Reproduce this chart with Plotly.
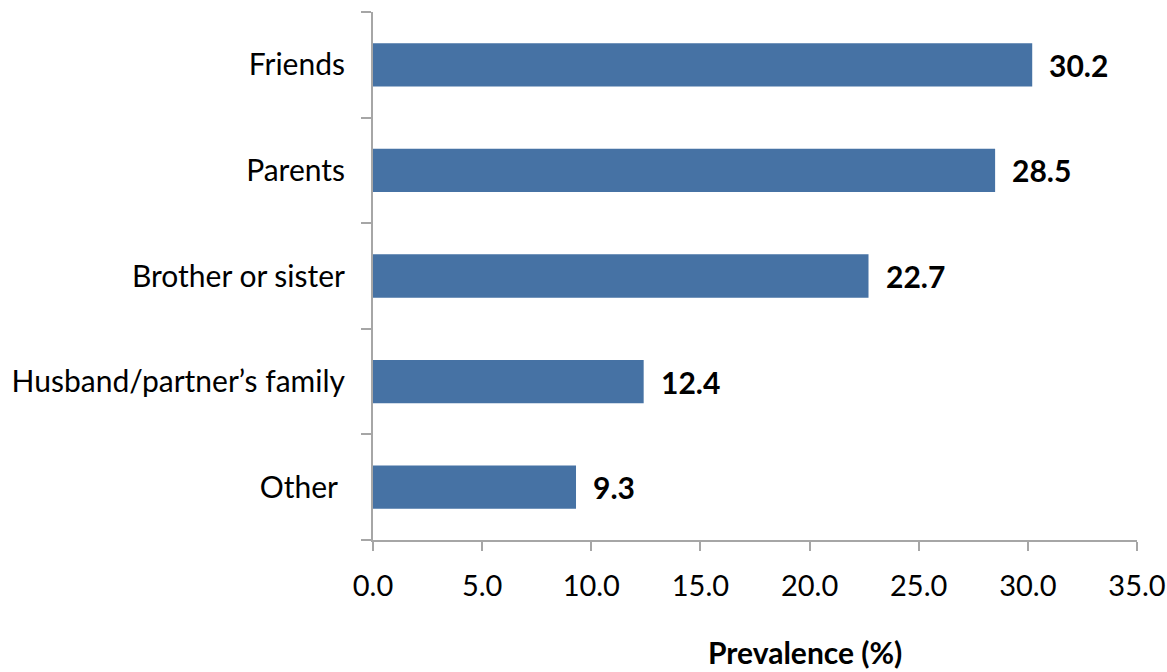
import plotly.graph_objects as go

categories = ["Friends", "Parents", "Brother or sister", "Husband/partner\u2019s family", "Other "]
values = [30.2, 28.5, 22.7, 12.4, 9.3]
value_labels = ["30.2", "28.5", "22.7", "12.4", "9.3"]
x_ticks = [0, 5, 10, 15, 20, 25, 30, 35]
x_tick_labels = ["0.0", "5.0", "10.0", "15.0", "20.0", "25.0", "30.0", "35.0"]

FONT = "Lato"
AXIS_COLOR = "#a6a6a6"
BAR_COLOR = "#4672a4"

W, H = 1167, 672
L, T, R, B = 373, 12, 30, 132
plot_h = H - T - B

fig = go.Figure()
fig.add_trace(go.Bar(
    x=values,
    y=categories,
    orientation="h",
    marker=dict(color=BAR_COLOR, line=dict(width=0)),
    hoverinfo="skip",
))

for v, c, t in zip(values, categories, value_labels):
    fig.add_annotation(
        x=v, y=c, text="<b>%s</b>" % t, showarrow=False,
        xanchor="left", yanchor="middle", xshift=15,
        font=dict(family=FONT, size=30, color="#000000"),
    )

fig.add_annotation(
    xref="paper", yref="paper",
    x=(805 - 373) / (1137 - 373), xanchor="center",
    y=(540 - 652) / plot_h, yanchor="middle",
    text="<b>Prevalence (%)</b>", showarrow=False,
    font=dict(family=FONT, size=30, color="#000000"),
)

fig.update_layout(
    width=W, height=H,
    margin=dict(l=L, r=R, t=T, b=B, pad=0, autoexpand=False),
    plot_bgcolor="white", paper_bgcolor="white",
    bargap=0.59,
    showlegend=False,
    font=dict(family=FONT, color="#000000"),
)
fig.update_xaxes(
    range=[0, 35], tickvals=x_ticks, ticktext=x_tick_labels,
    showgrid=False, zeroline=False,
    showline=True, linecolor=AXIS_COLOR, linewidth=2,
    ticks="outside", ticklen=9, tickwidth=2, tickcolor=AXIS_COLOR,
    ticklabelstandoff=10,
    tickfont=dict(family=FONT, size=29, color="#000000"),
    fixedrange=True,
)
fig.update_yaxes(
    categoryorder="array", categoryarray=categories[::-1],
    autorange=False, range=[-0.5, 4.5],
    showgrid=False, zeroline=False,
    showline=True, linecolor=AXIS_COLOR, linewidth=2,
    ticks="outside", ticklen=10, tickwidth=2, tickcolor=AXIS_COLOR,
    tickson="boundaries",
    ticklabelstandoff=20,
    tickfont=dict(family=FONT, size=30, color="#000000"),
    fixedrange=True,
)

fig.write_html(
    "out.html",
    config={"displayModeBar": False},
    post_script="document.body.style.margin='0';document.body.style.overflow='hidden';",
)
